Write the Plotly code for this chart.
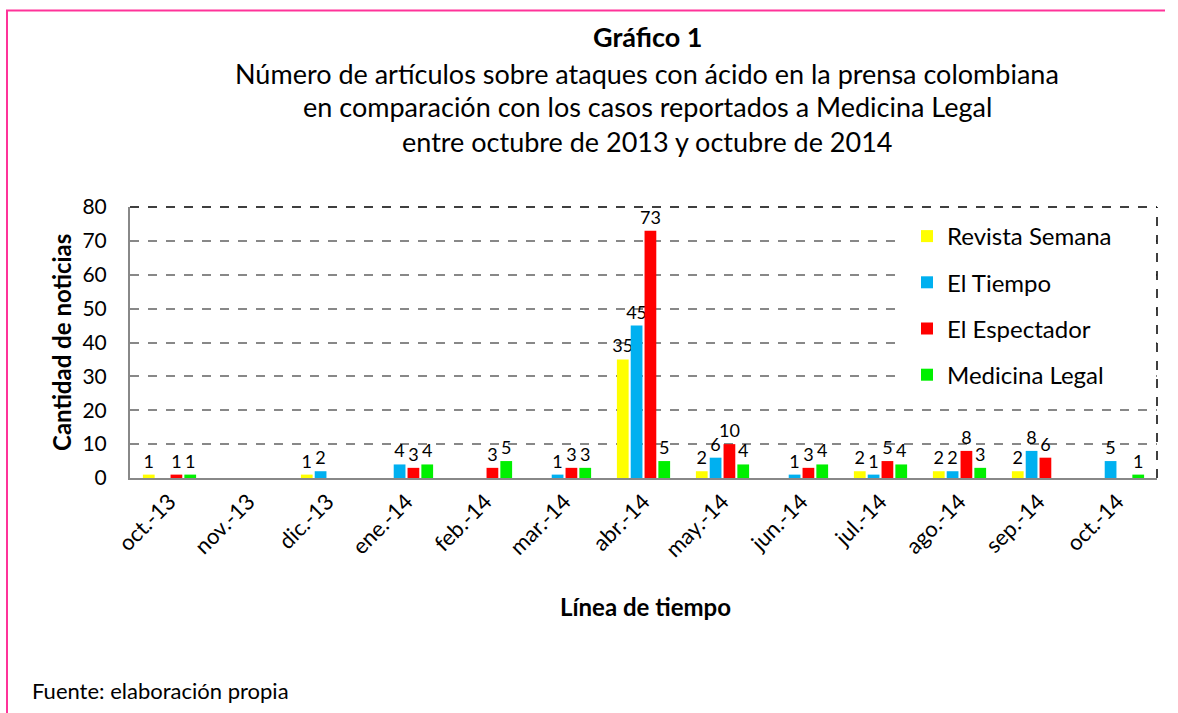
import plotly.graph_objects as go

months = ["oct.-13", "nov.-13", "dic.-13", "ene.-14", "feb.-14", "mar.-14", "abr.-14",
          "may.-14", "jun.-14", "jul.-14", "ago.-14", "sep.-14", "oct.-14"]
semana = [1, 0, 1, 0, 0, 0, 35, 2, 0, 2, 2, 2, 0]
tiempo = [0, 0, 2, 4, 0, 1, 45, 6, 1, 1, 2, 8, 5]
espectador = [1, 0, 0, 3, 3, 3, 73, 10, 3, 5, 8, 6, 0]
medicina = [1, 0, 0, 4, 5, 3, 5, 4, 4, 4, 3, 0, 1]

series = [
    ("Revista Semana", semana, "#FFFF00"),
    ("El Tiempo", tiempo, "#00B0F0"),
    ("El Espectador", espectador, "#FF0000"),
    ("Medicina Legal", medicina, "#00F000"),
]

FONT = "Lato, Carlito, Calibri, sans-serif"
W, H = 1178, 713
L, R, T, B = 130, 21, 207, 235
pw, ph = W - L - R, H - T - B


def px(x):
    return (x - L) / pw


def py(y):
    return (H - B - y) / ph


fig = go.Figure()
for i, (name, vals, col) in enumerate(series):
    fig.add_trace(go.Bar(
        x=months, y=vals, name=name, marker_color=col, marker_line_width=0,
        text=[str(v) if v else "" for v in vals], textposition="outside",
        textfont=dict(size=18, color="black", family=FONT),
        constraintext="none", cliponaxis=False, legendgroup=f"g{i}",
    ))

fig.update_layout(
    width=W, height=H, paper_bgcolor="white", plot_bgcolor="white",
    margin=dict(l=L, r=R, t=T, b=B),
    barmode="group", bargap=0.3, bargroupgap=0.15,
    font=dict(family=FONT, color="black"),
    showlegend=True,
    legend=dict(x=px(907), y=py(214), xanchor="left", yanchor="top",
                bgcolor="rgba(0,0,0,0)", font=dict(size=24, family=FONT),
                tracegroupgap=12, itemwidth=30),
    xaxis=dict(tickangle=-45, tickfont=dict(size=22), showline=True,
               linecolor="#888", linewidth=2, ticks="", showgrid=False),
    yaxis=dict(range=[0, 80], dtick=10, tickfont=dict(size=21), showline=True,
               linecolor="#888", linewidth=2, showgrid=True, gridcolor="#888",
               griddash="dash", gridwidth=1.5, zeroline=False,
               ticklabelstandoff=17),
)

shapes = [
    # white box behind legend
    dict(type="rect", xref="paper", yref="paper", x0=px(899), x1=px(1154),
         y0=py(396), y1=py(210), fillcolor="white", line_width=0, layer="above"),
    # dashed top and right border
    dict(type="line", xref="paper", yref="paper", x0=0, x1=1, y0=1, y1=1,
         line=dict(color="black", width=1.5, dash="dash")),
    dict(type="line", xref="paper", yref="paper", x0=1, x1=1, y0=0, y1=1,
         line=dict(color="black", width=1.5, dash="dash")),
    # pink outer frame: top and left edges
    dict(type="line", xref="paper", yref="paper", x0=px(6), x1=px(1165),
         y0=py(10.5), y1=py(10.5), line=dict(color="#FF3399", width=2), layer="above"),
    dict(type="line", xref="paper", yref="paper", x0=px(7), x1=px(7),
         y0=py(10), y1=py(713), line=dict(color="#FF3399", width=2), layer="above"),
]
fig.update_layout(shapes=shapes)

title_lines = [
    ("<b>Gráfico 1</b>", 36),
    ("Número de artículos sobre ataques con ácido en la prensa colombiana", 73),
    ("en comparación con los casos reportados a Medicina Legal", 107),
    ("entre octubre de 2013 y octubre de 2014", 141),
]
ann = []
for txt, yy in title_lines:
    ann.append(dict(text=txt, x=px(647), y=py(yy), xref="paper", yref="paper",
                    showarrow=False, font=dict(size=27, family=FONT),
                    xanchor="center", yanchor="middle"))
ann.append(dict(text="<b>Cantidad de noticias</b>", x=px(61), y=py(343),
                xref="paper", yref="paper", showarrow=False, textangle=-90,
                font=dict(size=24, family=FONT), xanchor="center", yanchor="middle"))
ann.append(dict(text="<b>Línea de tiempo</b>", x=px(645), y=py(606),
                xref="paper", yref="paper", showarrow=False,
                font=dict(size=24, family=FONT), xanchor="center", yanchor="middle"))
ann.append(dict(text="Fuente: elaboración propia", x=px(30), y=py(690),
                xref="paper", yref="paper", showarrow=False,
                font=dict(size=22, family=FONT), xanchor="left", yanchor="middle"))
fig.update_layout(annotations=ann)

fig.write_html("out.html", config={"displayModeBar": False},
               post_script="document.body.style.margin='0';")
